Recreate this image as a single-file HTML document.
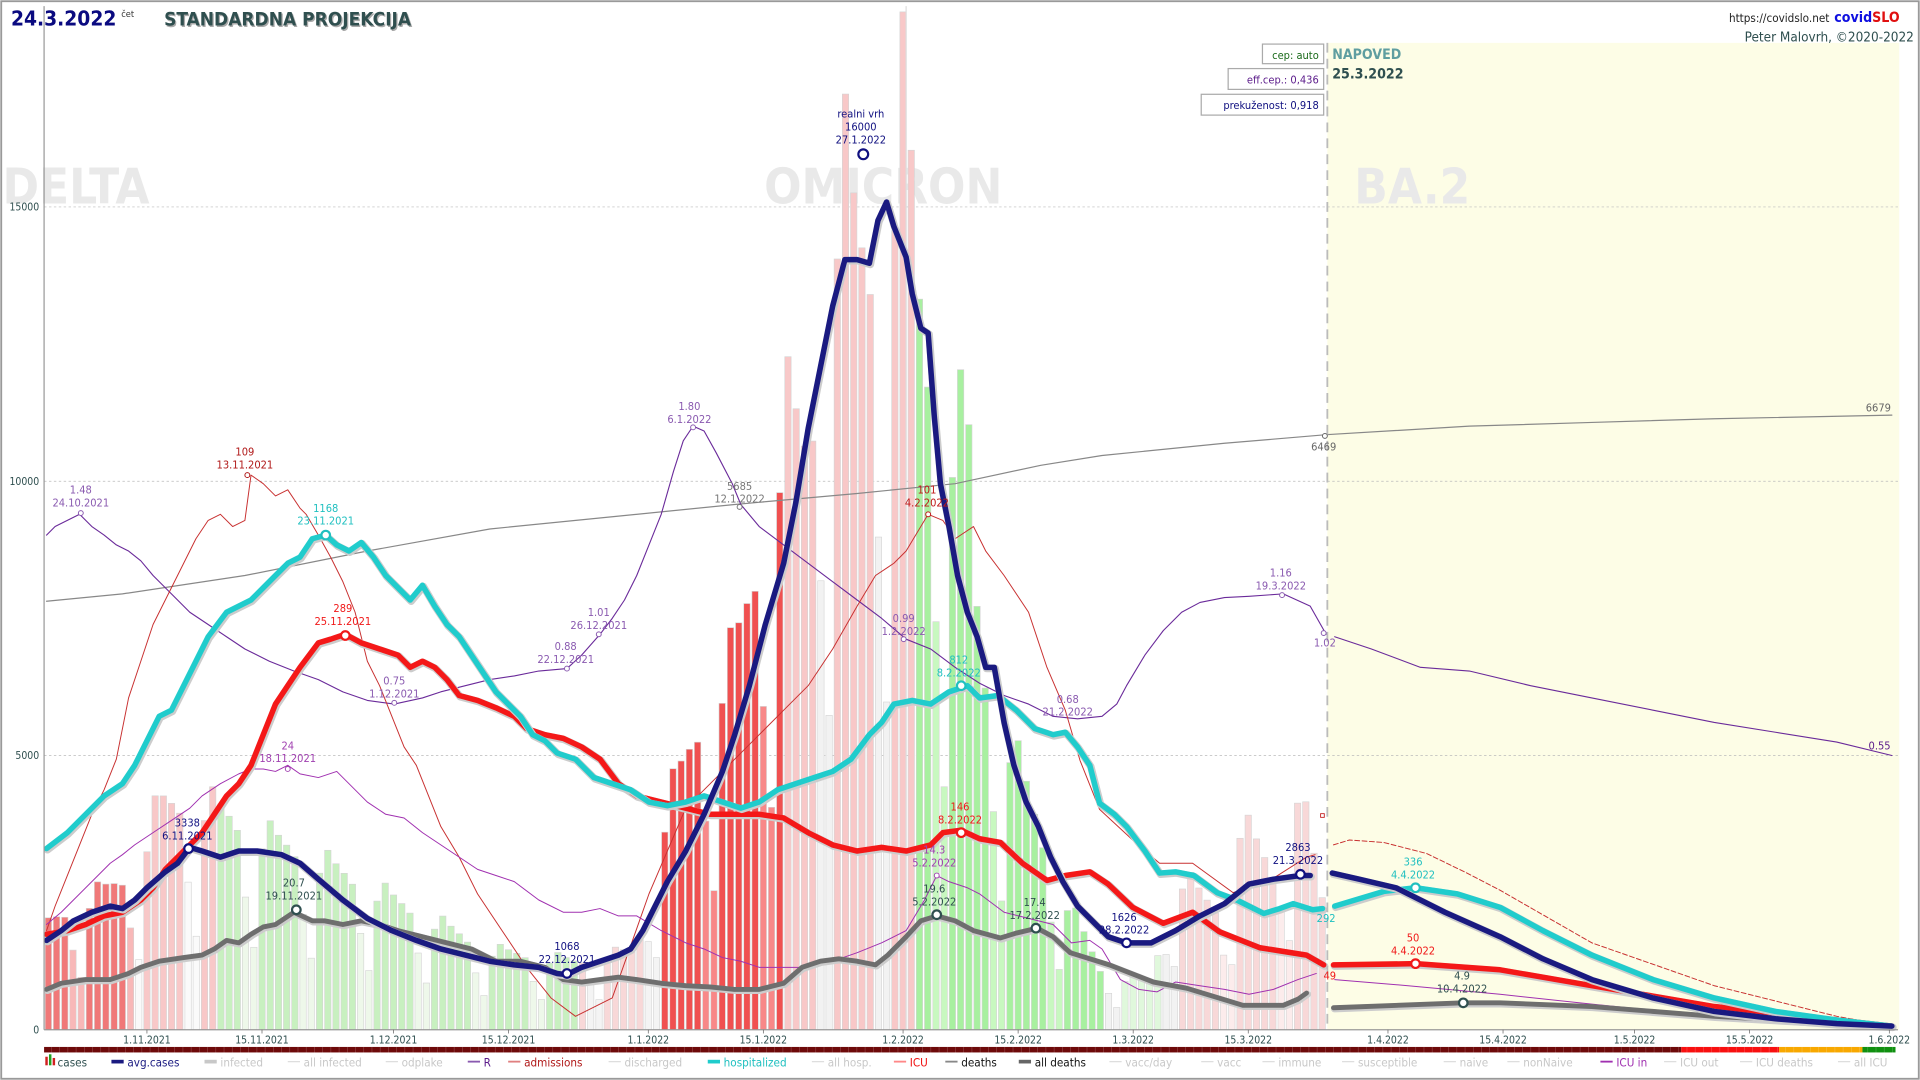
<!DOCTYPE html>
<html><head><meta charset="utf-8">
<style>
html,body{margin:0;padding:0;background:#fff;}
svg{display:block;}
text{font-family:"DejaVu Sans Condensed","Liberation Sans",sans-serif;}
</style></head>
<body>
<svg id="s" width="1920" height="1080" viewBox="0 0 1568 882" xmlns="http://www.w3.org/2000/svg">
<rect x="0" y="0" width="1568" height="882" fill="#fff"/>
<rect x="1" y="1" width="1566" height="880" fill="none" stroke="#999" stroke-width="1.5"/>
<rect x="1084" y="35" width="467" height="806" fill="#fdfde6"/>
<g id="grid" stroke="#bbb" stroke-width="0.6" stroke-dasharray="2,2">
<line x1="36" y1="169" x2="1550" y2="169"/><line x1="36" y1="393" x2="1550" y2="393"/><line x1="36" y1="617" x2="1550" y2="617"/>
</g>
<g font-weight="bold" font-size="40" fill="#e9e9e9">
<text x="2" y="166">DELTA</text><text x="624" y="166">OMICRON</text><text x="1106" y="166">BA.2</text>
</g>
<g id="bars"></g>
<line x1="740" y1="5" x2="740" y2="841" stroke="#ddd" stroke-width="1"/>
<g id="lines" fill="none" stroke-linejoin="round" stroke-linecap="round"></g>
<line x1="1084" y1="35" x2="1084" y2="841" stroke="#bbb" stroke-width="1.5" stroke-dasharray="8,5"/>
<line x1="36" y1="5" x2="36" y2="841" stroke="#999" stroke-width="1"/>
<line x1="36" y1="841" x2="1550" y2="841" stroke="#999" stroke-width="1"/>
<g font-size="8.5" fill="#2f4f4f" text-anchor="end">
<text x="32" y="172">15000</text><text x="32" y="396">10000</text><text x="32" y="620">5000</text><text x="32" y="844">0</text>
</g>
<g id="xt" font-size="8.5" fill="#2f4f4f" text-anchor="middle"></g>
<g id="strip"></g>
<g id="ann" text-anchor="middle" font-size="9"></g>
<text x="9" y="21" font-size="17" font-weight="bold" fill="#0a0a80">24.3.2022</text>
<text x="99" y="14" font-size="7.5" fill="#333">čet</text>
<text x="134" y="21" font-size="15.5" font-weight="bold" fill="#aaa" transform="translate(1,1)">STANDARDNA PROJEKCIJA</text>
<text x="134" y="21" font-size="15.5" font-weight="bold" fill="#2f4f4f">STANDARDNA PROJEKCIJA</text>
<text x="1494" y="18" font-size="9.5" fill="#222" text-anchor="end">https://covidslo.net</text>
<text x="1498" y="18" font-size="11.5" font-weight="bold" fill="#1010e0">covid<tspan fill="#e01010">SLO</tspan></text>
<text x="1563" y="34" font-size="11" fill="#2f4f4f" text-anchor="end">Peter Malovrh, ©2020-2022</text>
<g font-size="9">
<rect x="1031" y="36" width="50" height="16" fill="#fff" stroke="#aaa"/><text x="1077" y="48" fill="#1a6a1a" text-anchor="end">cep: auto</text>
<rect x="1003" y="56" width="78" height="17" fill="#fff" stroke="#aaa"/><text x="1077" y="68" fill="#5a1a8a" text-anchor="end">eff.cep.: 0,436</text>
<rect x="981" y="77" width="100" height="17" fill="#fff" stroke="#aaa"/><text x="1077" y="89" fill="#101080" text-anchor="end">prekuženost: 0,918</text>
</g>
<text x="1088" y="48" font-size="11.5" font-weight="bold" fill="#5f9ea0">NAPOVED</text>
<text x="1088" y="64" font-size="11.5" font-weight="bold" fill="#2f4f4f">25.3.2022</text>
<g id="leg" font-size="9.5"></g>
</svg>
<script>
(function(){
var NS="http://www.w3.org/2000/svg";
function el(p,t,a,txt){var e=document.createElementNS(NS,t);for(var k in a)e.setAttribute(k,a[k]);if(txt!==undefined)e.textContent=txt;p.appendChild(e);return e;}
function interp(pts,x){if(x<=pts[0][0])return pts[0][1];for(var i=1;i<pts.length;i++){if(x<=pts[i][0]){var a=pts[i-1],b=pts[i];return a[1]+(b[1]-a[1])*(x-a[0])/(b[0]-a[0]);}}return pts[pts.length-1][1];}
var env=[[39,745],[80,720],[110,700],[130,640],[170,640],[200,660],[260,690],[330,730],[400,770],[470,780],[520,770],[545,640],[575,560],[600,505],[620,420],[643,290],[660,330],[688,60],[700,140],[720,175],[738,5],[745,95],[752,210],[770,320],[790,295],[800,510],[830,600],[860,700],[900,790],[940,800],[960,700],[1000,740],[1013,655],[1040,700],[1060,622],[1083,740]];
var wf=[0.85,1,0.95,0.92,0.88,0.6,0.38];
function col(x,lo){
 if(x<112)return lo?"#f8b8b8":"#f07878";
 if(x<175)return lo?"#fafafa":"#f8c8c8";
 if(x<470)return lo?"#eef8ea":"#c8f0c0";
 if(x<540)return lo?"#f4f4f4":"#f8d8d8";
 if(x<640)return lo?"#f88888":"#f05050";
 if(x<748)return lo?"#f2f2f2":"#f8c8c8";
 if(x<905)return lo?"#c8f8c0":"#a8f0a0";
 if(x<960)return lo?"#f2f2f2":"#e0f8dc";
 return lo?"#fcecec":"#f8d8d8";}
var B=document.getElementById("bars");
for(var d=-12;d<=143;d++){var bx=120+6.712*d;var dow=((d%7)+7)%7;var tp=interp(env,bx);var h=(841-tp)*wf[dow];
 el(B,"rect",{x:(bx-2.6).toFixed(1),y:(841-h).toFixed(1),width:5.2,height:h.toFixed(1),fill:col(bx,dow>=5),stroke:"#d4d4d4","stroke-width":0.5});}
var L=document.getElementById("lines");
function pl(pts,c,w,extra){var a={points:pts.map(function(p){return p[0]+","+p[1]}).join(" "),stroke:c,"stroke-width":w};for(var k in extra)a[k]=extra[k];el(L,"polyline",a);}
var gray=[[38,491],[100,485],[200,470],[300,450],[400,432],[500,422],[600,412],[700,403],[780,395],[850,380],[900,372],[1000,362],[1083,355],[1200,348],[1300,345],[1400,342],[1545,339]];
pl(gray,"#888",1);
var Rr=[[38,437],[45,430],[55,425],[65,420],[75,430],[85,437],[95,445],[105,450],[115,458],[125,470],[135,480],[145,490],[155,500],[170,510],[185,520],[200,530],[220,540],[240,548],[260,555],[280,565],[300,572],[322,575],[345,570],[360,565],[380,560],[400,555],[420,552],[440,548],[463,546],[475,535],[490,518],[500,505],[510,490],[520,470],[530,445],[540,420],[550,385],[558,360],[566,348],[575,352],[585,370],[598,395],[605,412],[620,430],[640,445],[660,460],[680,475],[700,490],[720,505],[740,522],[760,530],[780,545],[800,558],[820,568],[840,575],[860,585],[880,587],[900,585],[912,575],[920,560],[935,535],[950,515],[965,500],[980,492],[1000,488],[1020,487],[1048,485],[1070,495],[1083,518]];
pl(Rr,"#6a2a9a",0.9);
pl([[1090,520],[1120,530],[1160,545],[1200,548],[1250,560],[1300,570],[1350,580],[1400,590],[1450,598],[1500,606],[1545,617]],"#6a2a9a",0.9);
var adm=[[38,760],[45,740],[55,715],[65,690],[75,665],[85,645],[95,620],[105,570],[115,540],[125,510],[140,480],[150,460],[160,440],[170,425],[180,420],[190,430],[200,425],[205,388],[215,395],[225,405],[235,400],[245,415],[250,420],[260,437],[270,455],[280,475],[290,500],[300,540],[310,560],[320,585],[330,610],[340,625],[350,650],[360,675],[375,700],[390,730],[410,760],[430,790],[450,815],[470,830],[500,815],[530,730],[560,660],[580,640],[600,620],[620,600],[640,580],[660,560],[680,530],[700,495],[715,470],[730,460],[740,450],[758,420],[770,425],[780,440],[795,430],[805,450],[820,470],[840,500],[855,545],[870,580],[882,621],[898,661],[925,686],[947,705],[974,705],[1007,729],[1034,721],[1067,700],[1074,698]];
pl(adm,"#c83030",0.8);
pl([[1089,690],[1102,686],[1130,688],[1165,697],[1198,713],[1225,727],[1300,770],[1400,805],[1500,830],[1545,838]],"#c83030",0.8,{"stroke-dasharray":"4,2"});
var icu=[[38,755],[50,745],[60,735],[75,720],[90,705],[100,698],[110,690],[125,680],[140,670],[155,660],[165,650],[180,640],[195,632],[205,628],[215,628],[225,630],[235,625],[245,632],[260,635],[275,630],[290,645],[300,655],[315,665],[330,668],[345,680],[360,690],[375,700],[390,710],[405,715],[420,720],[440,735],[460,745],[475,745],[490,742],[505,748],[520,748],[540,760],[560,770],[575,775],[590,782],[605,785],[620,790],[640,790],[660,790],[680,785],[700,778],[720,770],[740,760],[755,735],[765,715],[775,720],[790,725],[800,730],[820,745],[840,750],[860,755],[875,770],[890,768],[900,775],[915,800],[930,808],[945,810],[960,802],[980,805],[1000,808],[1020,812],[1040,808],[1060,800],[1075,795]];
pl(icu,"#a030b0",0.8);
pl([[1090,800],[1150,805],[1225,812],[1300,820],[1400,830],[1545,840]],"#a030b0",0.8);
function thick(pts,c,w){pl(pts,"#ccc",w+1.6,{transform:"translate(0.8,1)"});pl(pts,c,w);}
var deaths=[[38,808],[50,803],[70,800],[90,800],[105,795],[115,790],[130,785],[150,782],[165,780],[175,775],[185,768],[195,770],[205,763],[215,757],[225,755],[240,745],[255,752],[265,752],[280,755],[295,752],[310,755],[325,760],[345,765],[365,770],[385,775],[405,785],[425,785],[445,790],[460,800],[475,802],[490,800],[505,798],[520,800],[540,803],[560,805],[580,806],[600,808],[620,808],[640,803],[655,790],[670,785],[685,783],[700,785],[715,788],[725,780],[740,765],[752,752],[765,748],[780,752],[795,760],[817,766],[830,762],[847,758],[860,765],[874,778],[906,788],[942,802],[969,807],[1015,821],[1048,821],[1060,816],[1067,811]];
thick(deaths,"#6e6e6e",4);
thick([[1089,823],[1195,819],[1225,819],[1300,822],[1400,830],[1545,838]],"#6e6e6e",4);
var red=[[38,763],[55,760],[70,755],[85,748],[100,745],[115,735],[125,725],[135,710],[145,700],[155,690],[165,680],[175,665],[185,650],[195,640],[205,625],[215,600],[225,575],[235,560],[245,545],[260,525],[270,522],[282,518],[295,525],[310,530],[325,535],[335,545],[345,540],[355,545],[365,555],[375,568],[390,572],[405,578],[420,585],[430,595],[445,600],[460,603],[475,610],[490,620],[505,640],[520,650],[540,655],[560,660],[580,665],[600,665],[620,665],[640,668],[660,680],[680,690],[700,695],[720,692],[740,695],[760,690],[770,680],[785,678],[800,685],[817,688],[835,705],[855,719],[870,715],[890,712],[905,722],[925,741],[950,754],[974,745],[996,761],[1029,774],[1067,780],[1081,788]];
thick(red,"#f41818",4.5);
thick([[1089,788],[1156,787],[1225,792],[1300,805],[1400,822],[1500,833],[1545,838]],"#f41818",4.5);
var cyn=[[38,693],[55,680],[70,665],[85,650],[100,640],[110,625],[120,605],[130,585],[140,580],[150,560],[160,540],[170,520],[185,500],[195,495],[205,490],[215,480],[225,470],[235,460],[245,455],[255,440],[266,437],[275,445],[285,450],[295,443],[305,455],[315,470],[325,480],[335,490],[345,478],[355,495],[365,510],[375,520],[385,535],[395,550],[405,565],[415,575],[425,585],[435,600],[445,605],[455,615],[470,620],[485,635],[500,640],[515,645],[530,655],[545,658],[560,655],[575,650],[590,655],[605,660],[620,655],[635,645],[650,640],[665,635],[680,630],[695,620],[710,600],[720,590],[730,575],[745,572],[760,575],[775,565],[790,560],[800,570],[815,568],[830,580],[845,595],[860,600],[870,598],[880,610],[890,625],[898,656],[910,665],[920,675],[935,695],[947,713],[960,712],[975,715],[994,729],[1010,735],[1032,746],[1045,742],[1056,738],[1072,743],[1080,742]];
thick(cyn,"#20cccc",4.5);
thick([[1090,740],[1110,734],[1130,728],[1156,725],[1190,730],[1225,741],[1260,760],[1300,780],[1350,800],[1400,815],[1450,826],[1500,833],[1545,838]],"#20cccc",4.5);
var nv=[[38,768],[50,760],[60,752],[75,745],[90,740],[100,742],[110,735],[120,725],[135,712],[145,705],[155,692],[165,695],[180,700],[195,695],[210,695],[230,698],[245,705],[260,718],[280,735],[300,750],[320,760],[340,768],[360,775],[380,780],[400,785],[420,788],[440,790],[455,795],[463,796],[475,790],[490,785],[505,780],[515,775],[525,760],[535,740],[545,720],[560,695],[575,665],[590,630],[600,600],[612,560],[625,510],[640,460],[650,410],[660,350],[670,300],[680,250],[690,212],[700,212],[710,215],[717,180],[724,165],[730,185],[740,210],[745,240],[752,268],[758,272],[763,340],[768,395],[775,430],[782,470],[790,500],[798,520],[805,545],[812,545],[820,590],[828,625],[838,655],[848,675],[858,700],[868,720],[880,740],[895,755],[905,765],[920,770],[940,770],[960,760],[980,748],[1000,738],[1020,722],[1040,718],[1062,715],[1070,715]];
thick(nv,"#1a1a80",4.5);
thick([[1088,713],[1110,718],[1140,725],[1180,745],[1225,765],[1260,783],[1300,800],[1350,815],[1400,826],[1450,832],[1500,836],[1545,838]],"#1a1a80",4.5);
var XT=document.getElementById("xt");
[["1.11.2021",0],["15.11.2021",14],["1.12.2021",30],["15.12.2021",44],["1.1.2022",61],["15.1.2022",75],["1.2.2022",92],["15.2.2022",106],["1.3.2022",120],["15.3.2022",134],["1.4.2022",151],["15.4.2022",165],["1.5.2022",181],["15.5.2022",195],["1.6.2022",212]].forEach(function(t){var x=120+6.712*t[1];el(XT,"line",{x1:x,y1:841,x2:x,y2:844,stroke:"#666","stroke-width":0.6});el(XT,"text",{x:x,y:852},t[0]);});
var S=document.getElementById("strip");
el(S,"rect",{x:36,y:855,width:1337,height:4.5,fill:"#6e0a0a"});
el(S,"rect",{x:1373,y:855,width:80,height:4.5,fill:"#f81010"});
el(S,"rect",{x:1453,y:855,width:68,height:4.5,fill:"#f8a800"});
el(S,"rect",{x:1521,y:855,width:27,height:4.5,fill:"#109010"});
for(var sx=42;sx<1548;sx+=6.712)el(S,"line",{x1:sx,y1:855,x2:sx,y2:859.5,stroke:"rgba(255,255,255,0.25)","stroke-width":0.5});
var A=document.getElementById("ann");
function an(x,y,lines,c,cx,cy,r){lines.forEach(function(s,i){el(A,"text",{x:x,y:y+i*10.5,fill:c},s);});if(cx!==undefined)el(A,"circle",{cx:cx,cy:cy,r:r||2,fill:"#fff",stroke:c,"stroke-width":r>2?1.8:0.8});}
an(66,403,["1.48","24.10.2021"],"#8a5ab0",66,419);
an(200,372,["109","13.11.2021"],"#b01818",202,388);
an(266,418,["1168","23.11.2021"],"#20c0c0",266,437,3.5);
an(280,500,["289","25.11.2021"],"#f01818",282,519,3.5);
an(322,559,["0.75","1.12.2021"],"#8a5ab0",322,574);
an(462,531,["0.88","22.12.2021"],"#8a5ab0",463,546);
an(489,503,["1.01","26.12.2021"],"#8a5ab0",489,518);
an(563,335,["1.80","6.1.2022"],"#8a5ab0",566,349);
an(604,400,["5685","12.1.2022"],"#777",604,414);
an(703,96,["realni vrh","16000","27.1.2022"],"#101080",705,126,4);
an(757,403,["101","4.2.2022"],"#c01818",758,420);
an(738,508,["0.99","1.2.2022"],"#8a5ab0",738,522);
an(783,542,["812","8.2.2022"],"#20c0c0",785,560,3.5);
an(1046,471,["1.16","19.3.2022"],"#8a5ab0",1047,486);
an(1082,528,["1.02"],"#8a5ab0",1081,517);
an(872,574,["0.68","21.2.2022"],"#8a5ab0");
an(1081,368,["6469"],"#666",1082,356);
an(1534,336,["6679"],"#666");
an(1535,612,["0.55"],"#5a1a8a");
an(153,675,["3338","6.11.2021"],"#101080",154,693,3.5);
an(235,612,["24","18.11.2021"],"#a040b0",235,628);
an(240,724,["20.7","19.11.2021"],"#2f4f4f",242,743,3.5);
an(463,776,["1068","22.12.2021"],"#101080",463,795,3.5);
an(784,662,["146","8.2.2022"],"#f01818",785,680,3.5);
an(763,697,["14.3","5.2.2022"],"#a040b0",765,715);
an(763,729,["19.6","5.2.2022"],"#2f4f4f",765,747,3.5);
an(845,740,["17.4","17.2.2022"],"#2f4f4f",846,758,3.5);
an(918,752,["1626","28.2.2022"],"#101080",920,770,3.5);
an(1060,695,["2863","21.3.2022"],"#101080",1062,714,3.5);
an(1154,707,["336","4.4.2022"],"#20c0c0",1156,725,3.5);
an(1083,753,["292"],"#20c0c0");
an(1154,769,["50","4.4.2022"],"#f01818",1156,787,3.5);
an(1086,800,["49"],"#f01818");
an(1194,800,["4.9","10.4.2022"],"#2f4f4f",1195,819,3.5);
el(A,"rect",{x:1078.5,y:664.5,width:3,height:3,fill:"none",stroke:"#c01818","stroke-width":0.7});
var G=document.getElementById("leg");
el(G,"rect",{x:37,y:863,width:2,height:7,fill:"#d02020"});el(G,"rect",{x:40,y:861,width:2,height:9,fill:"#20a020"});el(G,"rect",{x:43,y:864,width:2,height:6,fill:"#d02020"});
var items=[["cases",47,null,"#2f4f4f"],["avg.cases",104,"#1a1a80","#1a1a80",3],["infected",180,"#c8c8c8","#c8c8c8",3],["all infected",248,"#ddd","#c8c8c8",1],["odplake",328,"#ddd","#c8c8c8",1],["R",395,"#8a5ab0","#5a1a8a",1.5],["admissions",428,"#e08080","#b01818",1.5],["discharged",510,"#ddd","#c8c8c8",1],["hospitalized",591,"#20cccc","#20c0c0",3],["all hosp.",676,"#ddd","#c8c8c8",1],["ICU",743,"#f88","#f01010",1.5],["deaths",785,"#888","#111",1.5],["all deaths",845,"#666","#111",3],["vacc/day",919,"#ddd","#c8c8c8",1],["vacc",994,"#ddd","#c8c8c8",1],["immune",1044,"#ddd","#c8c8c8",1],["susceptible",1109,"#ddd","#c8c8c8",1],["naive",1192,"#ddd","#c8c8c8",1],["nonNaive",1244,"#ddd","#c8c8c8",1],["ICU in",1320,"#a030b0","#a030b0",1.5],["ICU out",1372,"#ddd","#c8c8c8",1],["ICU deaths",1434,"#ddd","#c8c8c8",1],["all ICU",1514,"#ddd","#c8c8c8",1]];
items.forEach(function(it){if(it[2])el(G,"line",{x1:it[1]-13,y1:867,x2:it[1]-3,y2:867,stroke:it[2],"stroke-width":it[4]});el(G,"text",{x:it[1],y:871,fill:it[3]},it[0]);});
})();
</script>
</body></html>
